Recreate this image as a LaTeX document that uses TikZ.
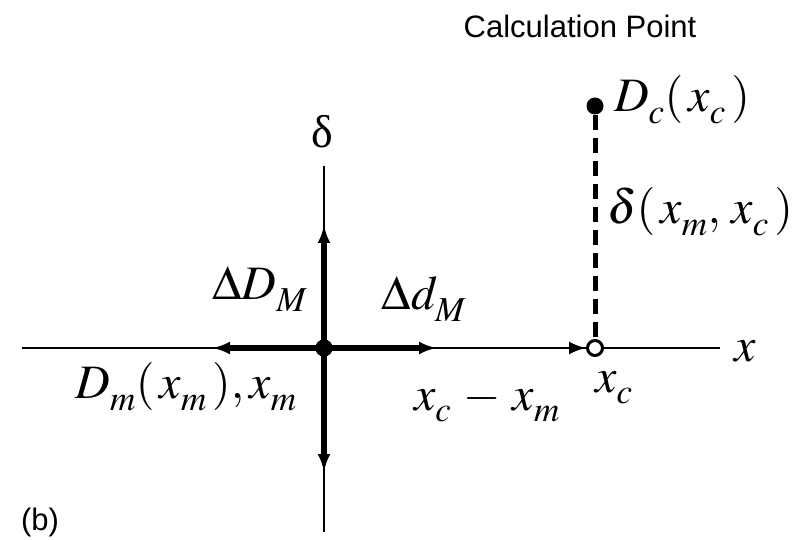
\documentclass[tikz,border=0pt]{standalone}
\usepackage{mathptmx}
\usepackage[no-math]{fontspec}
\setmainfont{Liberation Serif}
\setsansfont{Liberation Sans}
\newcommand{\lo}[1]{_{\mbox{\raisebox{-4pt}{\fontsize{35}{35}\selectfont$#1$}}}}
\usetikzlibrary{arrows.meta}
\begin{document}
\begin{tikzpicture}[x=1pt,y=-1pt,
  thin axis/.style={line width=2.8pt},
  thick axis/.style={line width=6pt},
  tip/.style={-{Latex[length=18pt,width=13pt]}},
  thintip/.style={-{Latex[length=17pt,width=13pt]}},
  mathlbl/.style={font=\fontsize{48}{52}\selectfont, inner sep=0pt},
  sanslbl/.style={font=\sffamily\fontsize{31}{34}\selectfont, inner sep=0pt},
  dot/.style={circle, fill=black, inner sep=0pt, minimum size=17pt},
  opendot/.style={circle, draw=black, fill=white, line width=3pt, inner sep=0pt, minimum size=15pt}]
\useasboundingbox (0,0) rectangle (807,540);
% coordinates
\coordinate (xl) at (22,348);
\coordinate (xr) at (720,348);
\coordinate (yt) at (324,166);
\coordinate (yb) at (324,532);
\coordinate (al) at (212,348);
\coordinate (ar) at (437,348);
\coordinate (au) at (324,225);
\coordinate (ad) at (324,472);
% axes
\draw[thin axis] (xl) -- (xr);
\draw[thin axis] (yt) -- (yb);
% thick arrows
\node[dot] (O) at (324,348) {};
\draw[thick axis, tip] (O.center) -- (al);
\draw[thick axis, tip] (O.center) -- (ar);
\draw[thick axis, tip] (O.center) -- (au);
\draw[thick axis, tip] (O.center) -- (ad);
\node[dot] (O2) at (324,348) {};
% calculation point
\node[opendot] (xc) at (595,348) {};
\node[dot] (Dc) at (595,106) {};
\draw[thin axis, thintip] (ar) -- (xc.west);
\draw[line width=5pt, dash pattern=on 15pt off 8pt] (Dc.south) -- (xc.north);
% labels
\node[sanslbl] (cp) at (580,26) {Calculation Point};
\node[sanslbl] (b) at (40,522) {(b)};
\node[font=\fontsize{46}{50}\selectfont, inner sep=0pt] (delta) at (322,132) {δ};
\node[mathlbl, anchor=base] (DDM) at (260,300) {$\Delta D\lo{M}$};
\node[mathlbl, anchor=base] (DdM) at (424,310) {$\Delta d\lo{M}$};
\node[mathlbl, anchor=base] (Dm) at (186,399) {$D\lo{m}(\,x\lo{m}\,),x\lo{m}$};
\node[mathlbl, anchor=base] (xcxm) at (487,410) {$x\lo{c}\,-\,x\lo{m}$};
\node[mathlbl, anchor=base] (xclbl) at (614,392) {$x\lo{c}$};
\node[mathlbl, anchor=base] (xlbl) at (745,362) {$x$};
\node[mathlbl, anchor=base] (Dclbl) at (682,112) {$D\lo{c}(\,x\lo{c}\,)$};
\node[mathlbl, anchor=base] (dlbl) at (700,224) {$\delta(\,x\lo{m},\,x\lo{c}\,)$};
\end{tikzpicture}
\end{document}
